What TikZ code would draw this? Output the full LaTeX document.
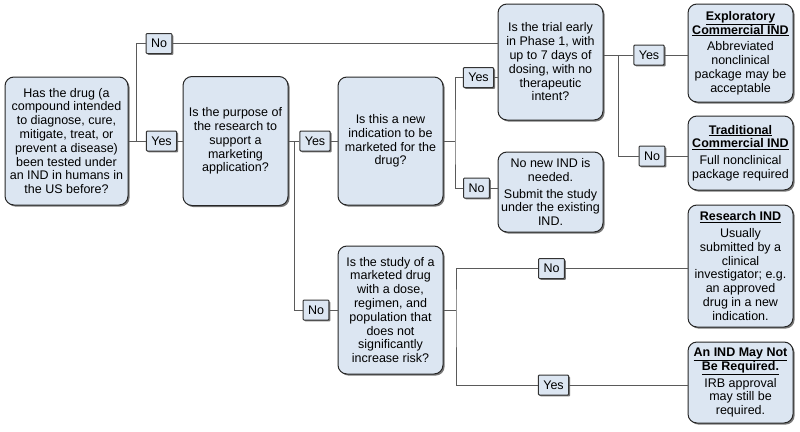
\documentclass[tikz,border=0pt]{standalone}
\usepackage{fontspec}
\setmainfont{Liberation Sans}
\usetikzlibrary{positioning,shadows,calc}
\definecolor{boxblue}{HTML}{DCE6F2}
\definecolor{linegray}{HTML}{5A5A5A}
\tikzset{
  qbox/.style={draw=black!85,fill=boxblue,line width=1pt,rounded corners=9pt,
    minimum width=105pt,align=center,inner sep=2pt,
    font=\fontsize{12.5}{13.8}\selectfont,
    drop shadow={shadow xshift=1.6pt,shadow yshift=-1.6pt,fill=black!70,opacity=.75}},
  ans/.style={draw=black!80,fill=boxblue,line width=1pt,rounded corners=1pt,
    minimum height=20pt,inner xsep=5pt,inner ysep=1pt,
    font=\fontsize{12.5}{13.8}\selectfont,
    drop shadow={shadow xshift=1.4pt,shadow yshift=-1.4pt,fill=black!70,opacity=.75}},
  link/.style={draw=linegray,line width=0.9pt}
}
\newcommand{\hd}[1]{\underline{\textbf{#1}}}

\begin{document}
\begin{tikzpicture}[x=1pt,y=-1pt]
\useasboundingbox (0,0) rectangle (800,431);
\coordinate (j1) at (136,141);
\coordinate (j2) at (294,141);
\coordinate (j3) at (455,141);
\coordinate (j4) at (618,55);
\coordinate (j5) at (456,310);

\node[qbox,minimum width=123pt,minimum height=128pt] (q1) at (66.5,141)
  {Has the drug (a\\compound intended\\to diagnose, cure,\\mitigate, treat, or\\prevent a disease)\\been tested under\\an IND in humans in\\the US before?};
\node[qbox,minimum height=129pt] (q2) at (235.5,141)
  {Is the purpose of\\the research to\\support a\\marketing\\application?};
\node[qbox,minimum height=128pt] (q3) at (390.5,141)
  {Is this a new\\indication to be\\marketed for the\\drug?};
\node[qbox,minimum height=116pt] (q4) at (550.5,62)
  {Is the trial early\\in Phase 1, with\\up to 7 days of\\dosing, with no\\therapeutic\\intent?};
\node[qbox,minimum height=80pt] (r5) at (550.5,192)
  {No new IND is\\needed.\\[3pt]Submit the study\\under the existing\\IND.};
\node[qbox,minimum height=128pt] (q5) at (390.5,310)
  {Is the study of a\\marketed drug\\with a dose,\\regimen, and\\population that\\does not\\significantly\\increase risk?};
\node[qbox,minimum height=98pt] (r6) at (740.5,53)
  {\hd{Exploratory}\\\hd{Commercial IND}\\[3pt]Abbreviated\\nonclinical\\package may be\\acceptable};
\node[qbox,minimum height=74pt] (r7) at (740.5,153)
  {\hd{Traditional}\\\hd{Commercial IND}\\[3pt]Full nonclinical\\package required};
\node[qbox,minimum height=122pt] (r8) at (740.5,266)
  {\hd{Research IND}\\[3pt]Usually\\submitted by a\\clinical\\investigator; e.g.\\an approved\\drug in a new\\indication.};
\node[qbox,minimum height=81pt] (r9) at (740.5,382.5)
  {\hd{An IND May Not}\\\hd{Be Required.}\\[3pt]IRB approval\\may still be\\required.};

\node[ans] (no1) at (159,43.5) {No};
\node[ans] (yes1) at (161.5,141) {Yes};
\node[ans] (yes2) at (315,141) {Yes};
\node[ans] (no5) at (316,310) {No};
\node[ans] (yes3) at (478.5,77.5) {Yes};
\node[ans] (no3) at (476.5,188) {No};
\node[ans] (yes4) at (649,55) {Yes};
\node[ans] (no4) at (652,156) {No};
\node[ans] (no6) at (551.5,268.5) {No};
\node[ans] (yes6) at (553.5,385) {Yes};

\draw[link] (q1) -- (yes1) -- (q2);
\draw[link] (j1) |- (no1.west);
\draw[link] (no1) -- (no1 -| q4.west);
\draw[link] (q2) -- (yes2) -- (q3);
\draw[link] (j2) |- (no5.west);
\draw[link] (no5) -- (q5);
\draw[link] (q3.east) -- (j3);
\draw[link] (yes3.west) -| (j3) |- (no3.west);
\draw[link] (yes3) -- (yes3 -| q4.west);
\draw[link] (no3) -- (no3 -| r5.west);
\draw[link] (q4.east |- j4) -- (yes4);
\draw[link] (j4) |- (no4.west);
\draw[link] (yes4) -- (yes4 -| r6.west);
\draw[link] (no4) -- (no4 -| r7.west);
\draw[link] (q5.east) -- (j5);
\draw[link] (no6.west) -| (j5) |- (yes6.west);
\draw[link] (no6) -- (no6 -| r8.west);
\draw[link] (yes6) -- (yes6 -| r9.west);
\end{tikzpicture}
\end{document}
